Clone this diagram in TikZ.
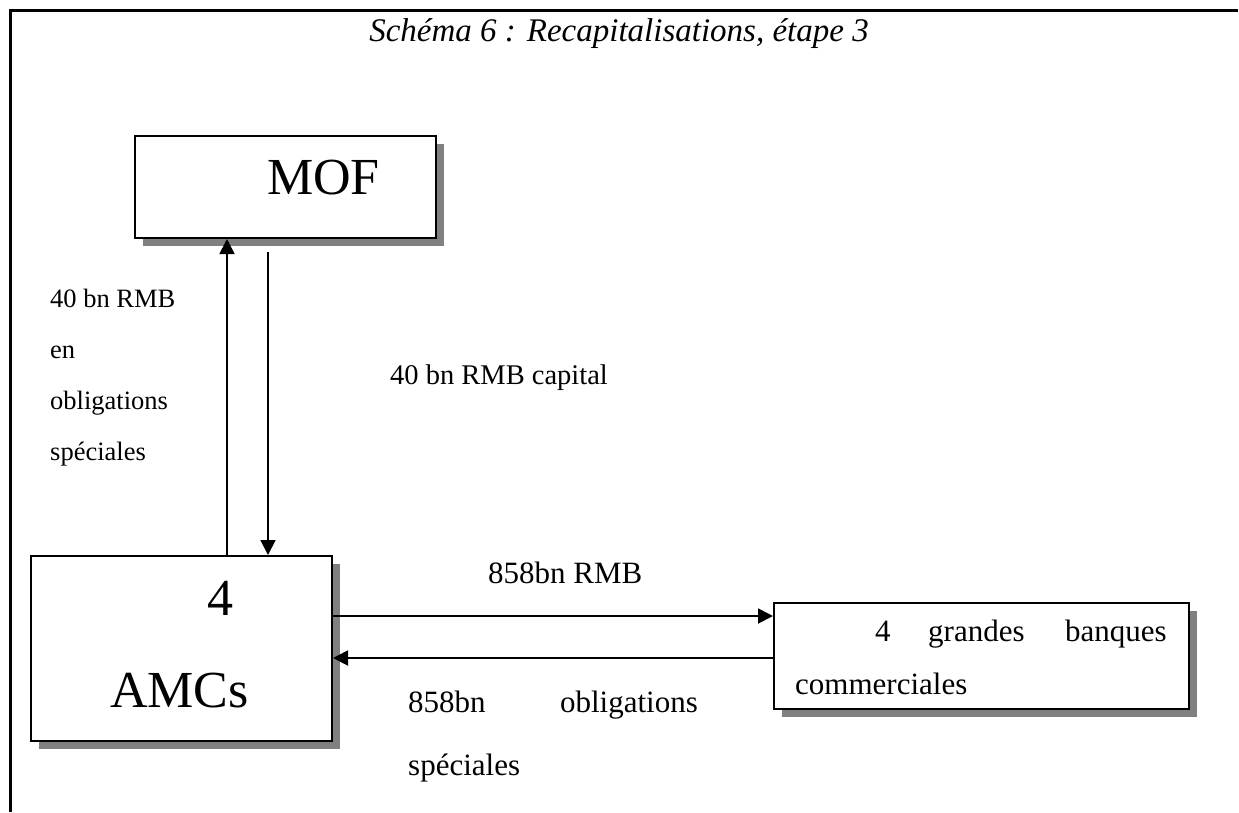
\documentclass[tikz,border=0pt]{standalone}
\usepackage{fontspec}
\setmainfont{Liberation Serif}
\usetikzlibrary{arrows.meta,shadows}
\definecolor{shadowgray}{RGB}{128,128,128}
\begin{document}
\begin{tikzpicture}[x=1pt,y=-1pt,
  box/.style={draw, line width=2pt, fill=white, inner sep=0, anchor=north west,
    drop shadow={shadow xshift=8pt, shadow yshift=-8pt, fill=shadowgray, opacity=1}},
  arr/.style={line width=1.8pt, -{Triangle[length=15pt,width=15pt]}},
  lbl/.style={anchor=base west, inner sep=0, font=\fontsize{31}{36}\selectfont},
  sml/.style={anchor=base west, inner sep=0, font=\fontsize{26.5}{32}\selectfont},
  mid/.style={anchor=base west, inner sep=0, font=\fontsize{28.5}{34}\selectfont},
  big/.style={anchor=base west, inner sep=0, font=\fontsize{52}{60}\selectfont},
  ttl/.style={anchor=base, inner sep=0, font=\fontsize{33}{38}\selectfont\itshape}
]
\useasboundingbox (0,0) rectangle (1239,812);
% frame
\draw[line width=3pt] (10,812) -- (10,10) -- (1238,10);
\node[ttl] (title) at (619,41) {Schéma 6 : Recapitalisations, étape 3};

% boxes
\node[box, minimum width=301pt, minimum height=102pt] (mof) at (134,135) {};
\node[big] (mofT) at (267,194) {MOF};
\node[box, minimum width=301pt, minimum height=185pt] (amc) at (30,555) {};
\node[big] (amcA) at (207,615) {4};
\node[big] (amcB) at (110,707) {AMCs};
\node[box, minimum width=415pt, minimum height=106pt] (bank) at (773,602) {};
\node[lbl] (bk1) at (875,641) {4};
\node[lbl] (bk2) at (928,641) {grandes};
\node[lbl] (bk3) at (1065,641) {banques};
\node[lbl] (bk4) at (795,694) {commerciales};

% connectors
\coordinate (upx) at (227,0);
\coordinate (dnx) at (268,0);
\coordinate (dstart) at (268,252);
\coordinate (ry) at (0,616);
\coordinate (ly) at (0,658);
\draw[arr] (amc.north -| upx) -- (mof.south -| upx);
\draw[arr] (dstart) -- (amc.north -| dnx);
\draw[arr] (amc.east |- ry) -- (bank.west |- ry);
\draw[arr] (bank.west |- ly) -- (amc.east |- ly);

% labels
\node[sml] (l1) at (50,307) {40 bn RMB};
\node[sml] (l2) at (50,358) {en};
\node[sml] (l3) at (50,409) {obligations};
\node[sml] (l4) at (50,460) {spéciales};
\node[mid] (l5) at (390,384) {40 bn RMB capital};
\node[lbl] (l6) at (488,583) {858bn RMB};
\node[lbl] (l7) at (408,712) {858bn};
\node[anchor=base east, inner sep=0, font=\fontsize{31}{36}\selectfont] (l8) at (698,712) {obligations};
\node[lbl] (l9) at (408,775) {spéciales};
\end{tikzpicture}
\end{document}
